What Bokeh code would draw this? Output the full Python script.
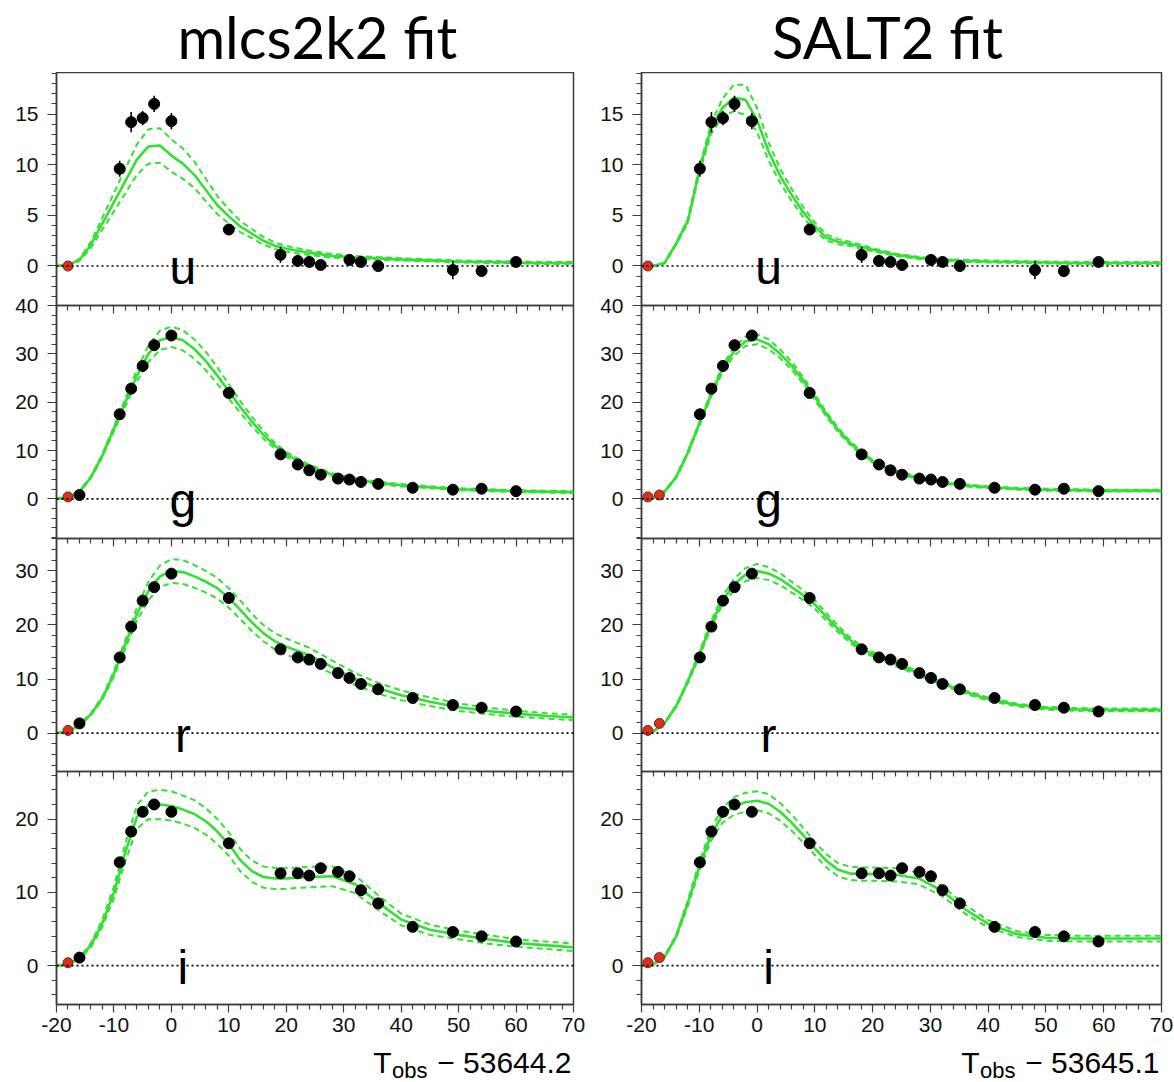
from bokeh.plotting import figure
from bokeh.models import Range1d, LinearAxis, FixedTicker, Span
from bokeh.layouts import row, column
from bokeh.embed import file_html
from bokeh.resources import INLINE
from bokeh.core.properties import value

# ------------------------------------------------------------------ data
bands = ["u", "g", "r", "i"]

# observation epochs (days) relative to each fit's T0
t_mlcs_u = [-18, -9, -7, -5, -3, 0, 10, 19, 22, 24, 26, 31, 33, 36, 49, 54, 60]
t_salt_u = [-18.9, -9.9, -7.9, -5.9, -3.9, -0.9, 9.1, 18.1, 21.1, 23.1, 25.1, 30.1, 32.1, 35.1, 48.1, 53.1, 59.1]
t_mlcs = [-18, -16, -9, -7, -5, -3, 0, 10, 19, 22, 24, 26, 29, 31, 33, 36, 42, 49, 54, 60]
t_salt = [-18.9, -16.9, -9.9, -7.9, -5.9, -3.9, -0.9, 9.1, 18.1, 21.1, 23.1, 25.1, 28.1, 30.1, 32.1, 35.1, 41.1, 48.1, 53.1, 59.1]

flux_u = [0.0, 9.6, 14.2, 14.6, 16.0, 14.3, 3.6, 1.1, 0.5, 0.4, 0.1, 0.6, 0.4, 0.0, -0.4, -0.5, 0.4]
err_u = [0.3, 0.8, 1.0, 0.7, 0.8, 0.8, 0.4, 0.8, 0.6, 0.5, 0.4, 0.5, 0.4, 0.4, 0.9, 0.5, 0.4]
flux_g = [0.4, 0.8, 17.5, 22.8, 27.5, 31.8, 33.8, 21.9, 9.2, 7.1, 5.9, 5.0, 4.2, 4.0, 3.5, 3.1, 2.3, 1.9, 2.1, 1.6]
err_g = [0.3, 0.4, 0.6, 0.6, 0.6, 0.7, 0.7, 0.6, 0.5, 0.5, 0.5, 0.5, 0.5, 0.5, 0.5, 0.5, 0.5, 0.6, 0.6, 0.6]
flux_r = [0.5, 1.8, 14.0, 19.7, 24.5, 27.0, 29.5, 25.0, 15.5, 14.0, 13.6, 12.8, 11.1, 10.2, 9.1, 8.1, 6.5, 5.2, 4.7, 4.0]
err_r = [0.3, 0.4, 0.5, 0.5, 0.5, 0.5, 0.5, 0.5, 0.5, 0.5, 0.5, 0.5, 0.5, 0.5, 0.5, 0.5, 0.5, 0.5, 0.5, 0.5]
flux_i = [0.4, 1.1, 14.1, 18.3, 21.0, 22.0, 21.0, 16.7, 12.6, 12.6, 12.3, 13.3, 12.8, 12.2, 10.3, 8.5, 5.3, 4.6, 4.0, 3.3]
err_i = [0.3, 0.4, 0.5, 0.5, 0.5, 0.5, 0.5, 0.5, 0.5, 0.5, 0.5, 0.6, 0.5, 0.5, 0.5, 0.5, 0.5, 0.5, 0.5, 0.5]

# indices of points drawn in red (not used in the fit)
red_mlcs_u = [0]
red_mlcs = [0]
red_salt_u = [0]
red_salt = [0, 1]

# model light curves (solid) and their 1-sigma half widths (dashed)
t_model = [-20, -18, -16, -14, -12, -10, -8, -6, -4, -2, 0, 2, 4, 6, 8, 10, 12, 14, 16, 18,
           20, 24, 28, 32, 36, 40, 45, 50, 55, 60, 65, 70]

u_mlcs = [0, 0.1, 0.6, 2.1, 4.2, 6.3, 8.4, 10.5, 11.8, 11.9, 10.9, 10.1, 9.0, 7.5, 6.0, 4.9, 3.9, 3.2, 2.5, 2.0,
          1.7, 1.3, 1.0, 0.85, 0.75, 0.65, 0.55, 0.45, 0.4, 0.35, 0.3, 0.3]
u_mlcs_err = [0, 0.02, 0.1, 0.3, 0.6, 0.9, 1.2, 1.5, 1.7, 1.7, 1.6, 1.5, 1.3, 1.1, 0.9, 0.7, 0.55, 0.45, 0.38, 0.32,
              0.28, 0.22, 0.18, 0.15, 0.13, 0.12, 0.1, 0.1, 0.1, 0.1, 0.1, 0.1]
g_mlcs = [0, 0.3, 1.5, 4.5, 9.0, 14.5, 20.0, 25.5, 30.0, 32.8, 33.5, 32.8, 31.0, 28.5, 25.5, 22.2, 19.0, 16.0, 13.3, 11.0,
          9.2, 6.6, 5.0, 4.0, 3.3, 2.8, 2.4, 2.0, 1.8, 1.6, 1.5, 1.4]
g_mlcs_err = [0, 0.05, 0.1, 0.2, 0.3, 0.5, 0.8, 1.2, 1.7, 2.0, 2.1, 2.1, 2.0, 1.9, 1.7, 1.5, 1.2, 1.0, 0.8, 0.6,
              0.5, 0.4, 0.3, 0.3, 0.25, 0.25, 0.2, 0.2, 0.2, 0.2, 0.2, 0.2]
r_mlcs = [0, 0.3, 1.5, 3.5, 6.5, 11.0, 16.5, 22.0, 26.3, 29.0, 30.0, 29.8, 29.0, 28.0, 26.8, 25.0, 22.8, 20.5, 18.5, 17.0,
          16.0, 14.4, 12.2, 10.0, 8.3, 7.0, 5.8, 4.8, 4.1, 3.6, 3.2, 2.9]
r_mlcs_err = [0, 0.05, 0.1, 0.2, 0.3, 0.5, 0.8, 1.2, 1.7, 2.0, 2.2, 2.2, 2.1, 2.0, 1.9, 1.8, 1.7, 1.6, 1.5, 1.5,
              1.5, 1.4, 1.2, 1.1, 1.0, 0.9, 0.8, 0.7, 0.6, 0.55, 0.5, 0.5]
i_mlcs = [0, 0.2, 1.0, 2.8, 5.8, 10.0, 15.5, 20.3, 21.9, 22.0, 21.8, 21.3, 20.7, 19.7, 18.3, 16.6, 14.4, 12.9, 12.1, 11.9,
          11.9, 12.1, 12.2, 11.1, 8.6, 6.3, 4.9, 4.2, 3.6, 3.1, 2.8, 2.5]
i_mlcs_err = [0, 0.05, 0.1, 0.3, 0.5, 0.8, 1.2, 1.6, 1.9, 2.0, 2.0, 1.9, 1.9, 1.8, 1.7, 1.6, 1.5, 1.45, 1.45, 1.45,
              1.4, 1.4, 1.35, 1.2, 1.0, 0.8, 0.7, 0.6, 0.6, 0.5, 0.5, 0.5]

u_salt = [0, 0, 0.3, 2.2, 4.4, 9.4, 13.5, 15.6, 16.6, 16.4, 14.4, 11.3, 8.9, 7.0, 5.3, 3.9, 2.8, 2.4, 2.2, 1.9,
          1.6, 1.1, 0.8, 0.6, 0.5, 0.45, 0.4, 0.35, 0.3, 0.3, 0.3, 0.3]
u_salt_err = [0, 0, 0.05, 0.1, 0.2, 0.3, 0.5, 0.9, 1.3, 1.5, 1.2, 0.9, 0.7, 0.6, 0.5, 0.4, 0.3, 0.25, 0.2, 0.2,
              0.15, 0.12, 0.1, 0.1, 0.1, 0.1, 0.1, 0.1, 0.1, 0.1, 0.1, 0.1]
g_salt = [0, 0.2, 1.5, 4.5, 9.5, 15.5, 21.5, 26.8, 30.5, 32.6, 33.0, 32.0, 30.0, 27.5, 24.5, 21.0, 17.5, 14.3, 11.7, 9.5,
          7.8, 5.6, 4.3, 3.4, 2.8, 2.4, 2.1, 1.9, 1.8, 1.7, 1.7, 1.7]
g_salt_err = [0, 0.05, 0.1, 0.2, 0.3, 0.4, 0.5, 0.7, 0.9, 1.0, 1.0, 1.0, 0.9, 0.8, 0.7, 0.6, 0.5, 0.45, 0.4, 0.35,
              0.3, 0.3, 0.25, 0.25, 0.2, 0.2, 0.2, 0.2, 0.2, 0.2, 0.2, 0.2]
r_salt = [0, 0.3, 1.8, 5.0, 9.5, 14.5, 20.0, 24.5, 27.5, 29.3, 30.0, 29.5, 28.5, 27.0, 25.5, 23.8, 21.5, 19.3, 17.3, 15.7,
          14.6, 12.8, 11.0, 9.2, 7.6, 6.3, 5.2, 4.6, 4.4, 4.3, 4.3, 4.3]
r_salt_err = [0, 0.05, 0.1, 0.2, 0.3, 0.4, 0.6, 0.8, 1.0, 1.2, 1.3, 1.2, 1.1, 1.0, 0.9, 0.8, 0.7, 0.6, 0.5, 0.45,
              0.4, 0.4, 0.35, 0.3, 0.3, 0.3, 0.25, 0.25, 0.25, 0.25, 0.25, 0.25]
i_salt = [0, 0.2, 1.2, 4.0, 8.5, 13.5, 17.8, 20.5, 21.8, 22.3, 22.5, 22.1, 21.0, 19.5, 17.8, 16.0, 14.3, 13.1, 12.6, 12.5,
          12.5, 12.4, 11.9, 10.2, 7.7, 5.7, 4.3, 3.8, 3.7, 3.7, 3.7, 3.7]
i_salt_err = [0, 0.05, 0.1, 0.2, 0.4, 0.6, 0.8, 1.0, 1.2, 1.3, 1.3, 1.3, 1.2, 1.1, 1.0, 0.9, 0.9, 0.9, 0.9, 0.9,
              0.9, 0.9, 0.8, 0.7, 0.6, 0.5, 0.4, 0.4, 0.4, 0.4, 0.4, 0.4]

# axis set-up per band panel
y_limits = {"u": (-3.9, 19.1), "g": (-8.2, 40.0), "r": (-7.1, 36.0), "i": (-5.3, 26.5)}
y_major = {"u": 5, "g": 10, "r": 10, "i": 10}
y_minor = {"u": 1, "g": 2, "r": 2, "i": 2}
x_limits = (-20, 70)
x_major_step = 10
x_minor_step = 2
x_tick_labels = ["-20", "-10", "0", "10", "20", "30", "40", "50", "60", "70"]

titles = ["mlcs2k2 fit", "SALT2 fit"]
t0_labels = ["53644.2", "53645.1"]

# ------------------------------------------------------------------ style
GREEN = "#33e033"
AXC = "#3c3c3c"
FONT = "Liberation Sans"
TITLE_X = [25.4, 22.6]  # horizontal centre of each column title, in day units

flux = {"u": flux_u, "g": flux_g, "r": flux_r, "i": flux_i}
errs = {"u": err_u, "g": err_g, "r": err_r, "i": err_i}
models = [
    {"u": (u_mlcs, u_mlcs_err), "g": (g_mlcs, g_mlcs_err), "r": (r_mlcs, r_mlcs_err), "i": (i_mlcs, i_mlcs_err)},
    {"u": (u_salt, u_salt_err), "g": (g_salt, g_salt_err), "r": (r_salt, r_salt_err), "i": (i_salt, i_salt_err)},
]
times = [({"u": t_mlcs_u}, t_mlcs, red_mlcs_u, red_mlcs), ({"u": t_salt_u}, t_salt, red_salt_u, red_salt)]

x_major_ticks = list(range(x_limits[0], x_limits[1] + 1, x_major_step))
x_minor_ticks = [v for v in range(x_limits[0], x_limits[1] + 1, x_minor_step) if v % x_major_step != 0]


def style_axis(ax):
    ax.axis_line_color = AXC
    ax.axis_line_width = 1.5
    ax.major_tick_line_color = AXC
    ax.minor_tick_line_color = AXC
    ax.major_tick_line_width = 1.2
    ax.minor_tick_line_width = 1.2
    ax.major_tick_in = 0
    ax.minor_tick_in = 0
    ax.minor_tick_out = 5
    ax.major_label_text_font = FONT
    ax.major_label_text_color = "#111111"
    ax.major_label_text_font_size = "21px"


def slot_of(band):
    return 3 - bands.index(band)


def composite(band, v):
    lo, hi = y_limits[band]
    return round(slot_of(band) + (v - lo) / (hi - lo), 9)


def y_axis_ticks():
    majors, minors, labels = [], [], {}
    for band in bands:
        lo, hi = y_limits[band]
        step = y_minor[band]
        k = int(lo // step)
        while k * step <= hi + 1e-9:
            v = k * step
            if v >= lo - 1e-9:
                pos = composite(band, v)
                if v % y_major[band] == 0:
                    majors.append(pos)
                    labels[pos] = str(int(v))
                else:
                    minors.append(pos)
            k += 1
    return majors, minors, labels


def strip(width, height, xr, border_left, border_right):
    s = figure(width=width, height=height, x_range=xr, y_range=Range1d(0, 1),
               output_backend="svg", toolbar_location=None, x_axis_location=None, y_axis_location=None,
               min_border_left=border_left, min_border_right=border_right,
               min_border_top=0, min_border_bottom=0)
    s.grid.visible = False
    s.outline_line_color = None
    return s


def build(col, border_left, border_right, width):
    xr = Range1d(*x_limits)

    # column title
    h = strip(width, 72, xr, border_left, border_right)
    h.text(x=[TITLE_X[col]], y=[0.5], text=[titles[col]], text_font=value("Lato"),
           text_font_size="58px", text_align="center", text_baseline="alphabetic", text_color="black")

    p = figure(width=width, height=970, x_range=xr, y_range=Range1d(0, 4),
               output_backend="svg", toolbar_location=None,
               min_border_left=border_left, min_border_right=border_right,
               min_border_top=0, min_border_bottom=38)
    p.grid.visible = False
    p.outline_line_color = AXC
    p.outline_line_width = 1.5

    xa = p.xaxis[0]
    xa.ticker = FixedTicker(ticks=x_major_ticks, minor_ticks=x_minor_ticks)
    style_axis(xa)
    xa.major_tick_out = 8
    xa.major_label_standoff = 5
    xa.major_label_overrides = {float(v): s for v, s in zip(x_major_ticks, x_tick_labels)}

    majors, minors, labels = y_axis_ticks()
    ya = p.yaxis[0]
    ya.ticker = FixedTicker(ticks=majors, minor_ticks=minors)
    ya.major_label_overrides = labels
    style_axis(ya)
    ya.major_tick_out = 9
    ya.major_label_standoff = 9

    ranges = {}
    for band in bands:
        lo, hi = y_limits[band]
        span = hi - lo
        s = slot_of(band)
        ranges[band] = Range1d(lo - s * span, lo + (4 - s) * span)
    p.extra_y_ranges = ranges

    tdict, t_gri, red_u, red_gri = times[col]
    for band in bands:
        lo, hi = y_limits[band]
        if band != "i":
            # unlabeled x ticks hanging below the panel boundary
            for tick_set, length in ((x_major_ticks, 8), (x_minor_ticks, 5)):
                bx = LinearAxis(y_range_name=band, fixed_location=lo,
                                ticker=FixedTicker(ticks=[], minor_ticks=tick_set))
                style_axis(bx)
                bx.minor_tick_out = length
                p.add_layout(bx, "below")

        p.add_layout(Span(location=0, dimension="width", y_range_name=band, line_color="black",
                          line_dash="2 3", line_width=1.6))

        m, me = models[col][band]
        p.line(t_model, m, y_range_name=band, line_color=GREEN, line_width=2.6)
        p.line(t_model, [a + b for a, b in zip(m, me)], y_range_name=band, line_color=GREEN,
               line_width=2.0, line_dash="6 4")
        p.line(t_model, [a - b for a, b in zip(m, me)], y_range_name=band, line_color=GREEN,
               line_width=2.0, line_dash="6 4")

        t = tdict.get(band, t_gri)
        reds = red_u if band == "u" else red_gri
        f = flux[band]
        e = errs[band]
        p.segment(x0=t, y0=[a - b for a, b in zip(f, e)], x1=t, y1=[a + b for a, b in zip(f, e)],
                  y_range_name=band, line_color="black", line_width=1.6)
        tb = [t[k] for k in range(len(t)) if k not in reds]
        fb = [f[k] for k in range(len(t)) if k not in reds]
        tr = [t[k] for k in reds]
        fr = [f[k] for k in reds]
        p.scatter(tb, fb, y_range_name=band, size=11, fill_color="black", line_color="black")
        p.scatter(tr, fr, y_range_name=band, size=10, fill_color="#d8321e", line_color="#8a1c10",
                  line_width=1)

        p.text(x=[2], y=[0], text=[band], y_range_name=band, text_font=value(FONT),
               text_font_size="48px", text_align="center", text_baseline="alphabetic", y_offset=2,
               text_color="black")

    # caption strip below:  T_obs - T0
    c = strip(width, 40, xr, border_left, border_right)
    c.text(x=[x_limits[1]], y=[0.5], text=["\u2212 " + t0_labels[col]], text_font=value(FONT),
           text_font_size="30px", text_align="right", text_baseline="alphabetic", x_offset=-2,
           text_color="black")
    c.text(x=[x_limits[1]], y=[0.3], text=["obs"], text_font=value(FONT),
           text_font_size="22px", text_align="right", text_baseline="alphabetic", x_offset=-146,
           text_color="black")
    c.text(x=[x_limits[1]], y=[0.5], text=["T"], text_font=value(FONT),
           text_font_size="30px", text_align="right", text_baseline="alphabetic", x_offset=-182,
           text_color="black")
    return column(h, p, c, spacing=0)


left = build(0, 56, 14, 587)
right = build(1, 54, 13, 587)
layout = row(left, right, spacing=0)

open("out.html", "w").write(file_html(layout, INLINE))
